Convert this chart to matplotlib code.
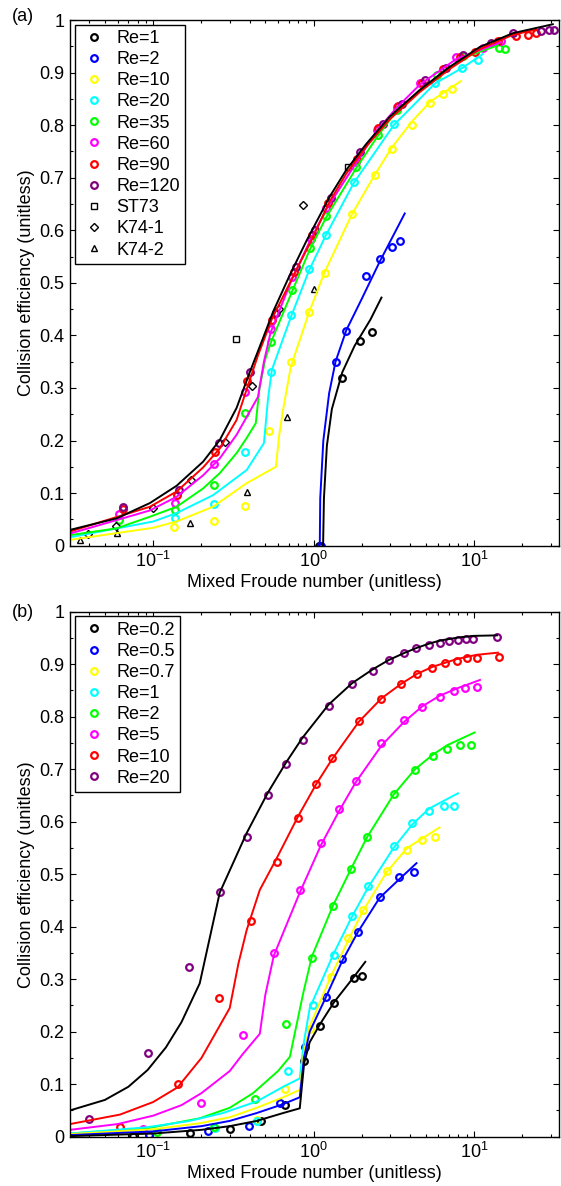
import matplotlib
matplotlib.use('Agg')
import matplotlib.pyplot as plt
from matplotlib.ticker import MultipleLocator, LogLocator, NullFormatter

plt.rcParams['font.family'] = ['Liberation Sans', 'DejaVu Sans']
plt.rcParams['mathtext.fontset'] = 'custom'
plt.rcParams['mathtext.rm'] = 'Liberation Sans'
plt.rcParams['mathtext.it'] = 'Liberation Sans:italic'
plt.rcParams['mathtext.bf'] = 'Liberation Sans:bold'

# ---------------- panel (a): measured points ----------------
a_re1_fr = [1.08, 1.51, 1.94, 2.30]
a_re1_e = [0.0, 0.319, 0.390, 0.406]
a_re2_fr = [1.11, 1.37, 1.60, 2.11, 2.60, 3.10, 3.44]
a_re2_e = [0.0, 0.350, 0.409, 0.514, 0.545, 0.569, 0.580]
a_re10_fr = [0.135, 0.239, 0.373, 0.528, 0.721, 0.938, 1.17, 1.73, 2.40, 3.08, 4.13, 5.35, 6.41, 7.33]
a_re10_e = [0.036, 0.046, 0.075, 0.219, 0.350, 0.444, 0.519, 0.631, 0.705, 0.755, 0.800, 0.842, 0.859, 0.868]
a_re20_fr = [0.137, 0.240, 0.376, 0.539, 0.728, 0.938, 1.19, 1.78, 3.16, 5.69, 8.47, 10.6]
a_re20_e = [0.053, 0.079, 0.179, 0.330, 0.439, 0.526, 0.592, 0.692, 0.802, 0.881, 0.909, 0.924]
a_re35_fr = [0.061, 0.137, 0.240, 0.376, 0.539, 0.735, 0.946, 1.20, 1.85, 2.52, 3.29, 5.92, 8.54, 14.3, 15.6]
a_re35_e = [0.048, 0.068, 0.115, 0.252, 0.387, 0.486, 0.566, 0.627, 0.721, 0.782, 0.829, 0.895, 0.932, 0.947, 0.944]
a_re60_fr = [0.0611, 0.137, 0.240, 0.374, 0.539, 0.735, 0.957, 1.20, 1.83, 2.47, 3.29, 4.63, 7.77, 11.3, 14.8]
a_re60_e = [0.060, 0.081, 0.155, 0.292, 0.412, 0.511, 0.584, 0.642, 0.729, 0.791, 0.835, 0.880, 0.929, 0.946, 0.960]
a_re90_fr = [0.065, 0.140, 0.243, 0.385, 0.551, 0.753, 0.98, 1.23, 1.87, 2.52, 3.36, 4.77, 6.41, 8.15,
             10.1, 14.1, 18.2, 21.7, 24.5]
a_re90_e = [0.069, 0.096, 0.179, 0.313, 0.429, 0.521, 0.592, 0.651, 0.735, 0.794, 0.836, 0.881, 0.906, 0.930,
            0.940, 0.961, 0.970, 0.972, 0.975]
a_re120_fr = [0.0644, 0.145, 0.258, 0.400, 0.579, 0.780, 1.02, 1.29, 1.94, 2.70, 3.56, 4.98, 6.66, 8.5,
              12.7, 17.5, 26.3, 29.3, 31.4]
a_re120_e = [0.074, 0.106, 0.195, 0.330, 0.442, 0.530, 0.601, 0.661, 0.749, 0.802, 0.841, 0.885, 0.908, 0.933,
             0.957, 0.975, 0.980, 0.981, 0.982]
st73_fr = [0.326, 1.64]
st73_e = [0.393, 0.721]
k741_fr = [0.039, 0.059, 0.1, 0.173, 0.280, 0.416, 0.61, 0.853]
k741_e = [0.022, 0.038, 0.072, 0.125, 0.197, 0.304, 0.450, 0.649]
k742_fr = [0.0349, 0.0597, 0.169, 0.385, 0.684, 1.0]
k742_e = [0.011, 0.024, 0.043, 0.103, 0.244, 0.489]

# ---------------- panel (a): fitted curves ----------------
a_fit1_fr = [1.146, 1.16, 1.21, 1.30, 1.51, 1.80, 2.26, 2.65]
a_fit1_e = [0.0, 0.09, 0.19, 0.26, 0.33, 0.38, 0.43, 0.472]
a_fit2_fr = [1.093, 1.10, 1.15, 1.25, 1.37, 1.6, 2.0, 2.58, 3.70]
a_fit2_e = [0.0, 0.09, 0.20, 0.29, 0.35, 0.41, 0.47, 0.54, 0.632]
a_fit10_fr = [0.0303, 0.1, 0.140, 0.236, 0.383, 0.582, 0.61, 0.645, 0.72, 0.94, 1.17, 1.73, 2.40, 3.08,
              4.13, 5.35, 8.3]
a_fit10_e = [0.011, 0.034, 0.046, 0.074, 0.119, 0.150, 0.21, 0.258, 0.340, 0.445, 0.520, 0.630, 0.705, 0.758,
             0.808, 0.845, 0.884]
a_fit20_fr = [0.0303, 0.1, 0.140, 0.236, 0.383, 0.49, 0.52, 0.55, 0.728, 0.938, 1.19, 1.78, 3.16, 5.69, 8.47, 11.3]
a_fit20_e = [0.016, 0.046, 0.062, 0.096, 0.144, 0.195, 0.280, 0.335, 0.438, 0.524, 0.590, 0.690, 0.800, 0.879,
             0.909, 0.935]
a_fit35_fr = [0.0303, 0.0591, 0.0953, 0.140, 0.205, 0.260, 0.331, 0.383, 0.436, 0.46, 0.50, 0.539, 0.735, 0.946,
              1.20, 1.85, 2.52, 3.29, 5.92, 8.54, 14.1]
a_fit35_e = [0.020, 0.033, 0.055, 0.074, 0.109, 0.138, 0.176, 0.205, 0.233, 0.300, 0.355, 0.385, 0.484, 0.563,
             0.625, 0.719, 0.780, 0.827, 0.893, 0.928, 0.952]
a_fit60_fr = [0.0303, 0.0953, 0.140, 0.205, 0.260, 0.331, 0.383, 0.45, 0.49, 0.539, 0.735, 0.957, 1.20, 1.83,
              2.47, 3.29, 4.63, 7.77, 14.8]
a_fit60_e = [0.023, 0.067, 0.093, 0.134, 0.166, 0.211, 0.245, 0.283, 0.350, 0.405, 0.508, 0.582, 0.640, 0.727,
             0.789, 0.833, 0.878, 0.926, 0.958]
a_fit90_fr = [0.0303, 0.0953, 0.140, 0.205, 0.260, 0.331, 0.385, 0.45, 0.551, 0.753, 0.98, 1.26, 1.60, 2.14,
              2.98, 4.59, 7.06, 10.9, 17.5, 24.5]
a_fit90_e = [0.027, 0.074, 0.103, 0.149, 0.185, 0.239, 0.300, 0.362, 0.432, 0.515, 0.584, 0.655, 0.708, 0.760,
             0.811, 0.863, 0.907, 0.945, 0.972, 0.982]
a_fit120_fr = [0.0303, 0.0591, 0.0953, 0.140, 0.205, 0.260, 0.331, 0.40, 0.48, 0.559, 0.711, 0.903, 1.26, 1.60,
               2.14, 2.98, 4.59, 7.06, 10.9, 17.5, 31.0]
a_fit120_e = [0.030, 0.052, 0.081, 0.114, 0.160, 0.201, 0.262, 0.330, 0.392, 0.445, 0.515, 0.580, 0.664, 0.715,
              0.765, 0.816, 0.867, 0.911, 0.949, 0.975, 0.992]

# ---------------- panel (b): measured points ----------------
b_re02_fr = [0.0744, 0.169, 0.300, 0.467, 0.668, 0.873, 1.10, 1.34, 1.79, 1.99]
b_re02_e = [0.002, 0.007, 0.015, 0.029, 0.060, 0.145, 0.211, 0.254, 0.303, 0.306]
b_re05_fr = [0.0944, 0.220, 0.396, 0.615, 0.881, 1.19, 1.51, 1.89, 2.58, 3.41, 4.23]
b_re05_e = [0.003, 0.010, 0.021, 0.065, 0.171, 0.267, 0.338, 0.390, 0.457, 0.494, 0.505]
b_re07_fr = [0.441, 0.659, 0.946, 1.28, 1.65, 2.03, 2.87, 3.83, 4.77, 5.69]
b_re07_e = [0.031, 0.090, 0.206, 0.304, 0.378, 0.432, 0.507, 0.547, 0.565, 0.570]
b_re1_fr = [0.242, 0.447, 0.693, 0.993, 1.34, 1.74, 2.19, 3.15, 4.13, 5.25, 6.47, 7.50]
b_re1_e = [0.016, 0.030, 0.125, 0.250, 0.346, 0.420, 0.478, 0.554, 0.597, 0.620, 0.630, 0.629]
b_re2_fr = [0.105, 0.239, 0.429, 0.675, 0.975, 1.32, 1.71, 2.15, 3.16, 4.29, 5.56, 6.83, 8.15, 9.53]
b_re2_e = [0.008, 0.018, 0.071, 0.215, 0.341, 0.439, 0.510, 0.571, 0.652, 0.699, 0.725, 0.738, 0.746, 0.747]
b_re5_fr = [0.0867, 0.200, 0.361, 0.565, 0.82, 1.11, 1.44, 1.83, 2.65, 3.66, 4.77, 6.11, 7.48, 8.84, 10.4]
b_re5_e = [0.014, 0.065, 0.194, 0.349, 0.469, 0.559, 0.624, 0.678, 0.750, 0.794, 0.819, 0.837, 0.849, 0.854, 0.856]
b_re10_fr = [0.062, 0.142, 0.258, 0.406, 0.588, 0.80, 1.04, 1.31, 1.91, 2.65, 3.53, 4.44, 5.51, 6.64, 7.84,
             9.1, 10.4, 14.3]
b_re10_e = [0.019, 0.100, 0.265, 0.410, 0.524, 0.608, 0.672, 0.721, 0.792, 0.833, 0.862, 0.881, 0.893, 0.902,
            0.907, 0.912, 0.912, 0.914]
b_re20_fr = [0.0399, 0.0923, 0.167, 0.260, 0.382, 0.518, 0.671, 0.853, 1.24, 1.74, 2.33, 2.94, 3.65, 4.38,
             5.22, 6.11, 6.98, 8.0, 8.97, 9.86, 13.9]
b_re20_e = [0.033, 0.159, 0.324, 0.466, 0.571, 0.650, 0.709, 0.755, 0.821, 0.862, 0.888, 0.908, 0.921, 0.930,
            0.936, 0.941, 0.944, 0.947, 0.949, 0.949, 0.951]

# ---------------- panel (b): fitted curves ----------------
b_fit02_fr = [0.0303, 0.1, 0.2, 0.3, 0.442, 0.646, 0.82, 0.873, 0.946, 1.1, 1.34, 1.79, 2.1]
b_fit02_e = [0.001, 0.006, 0.013, 0.020, 0.030, 0.045, 0.054, 0.14, 0.18, 0.215, 0.256, 0.305, 0.333]
b_fit05_fr = [0.0303, 0.1, 0.2, 0.3, 0.442, 0.646, 0.82, 0.87, 0.946, 1.19, 1.51, 1.89, 2.58, 3.41, 4.38]
b_fit05_e = [0.003, 0.010, 0.020, 0.030, 0.045, 0.062, 0.075, 0.15, 0.20, 0.265, 0.335, 0.39, 0.455, 0.49, 0.521]
b_fit07_fr = [0.0303, 0.1, 0.2, 0.3, 0.442, 0.646, 0.82, 0.87, 0.946, 1.28, 1.65, 2.03, 2.87, 3.83, 6.1]
b_fit07_e = [0.005, 0.014, 0.026, 0.037, 0.055, 0.075, 0.089, 0.16, 0.21, 0.305, 0.375, 0.43, 0.505, 0.55, 0.589]
b_fit1_fr = [0.0303, 0.092, 0.169, 0.272, 0.442, 0.646, 0.82, 0.87, 0.946, 1.34, 1.74, 2.19, 3.15, 4.13, 5.25, 7.94]
b_fit1_e = [0.006, 0.018, 0.030, 0.045, 0.067, 0.095, 0.111, 0.18, 0.245, 0.35, 0.42, 0.475, 0.55, 0.595, 0.625,
            0.654]
b_fit2_fr = [0.0303, 0.092, 0.195, 0.3, 0.42, 0.6, 0.711, 0.861, 0.975, 1.32, 1.71, 2.15, 3.16, 4.29, 5.56, 6.83, 10.1]
b_fit2_e = [0.006, 0.016, 0.035, 0.055, 0.083, 0.125, 0.152, 0.273, 0.343, 0.44, 0.51, 0.57, 0.652, 0.70, 0.728,
            0.746, 0.77]
b_fit5_fr = [0.0303, 0.06, 0.1, 0.15, 0.2, 0.3, 0.361, 0.462, 0.50, 0.565, 0.82, 1.11, 1.44, 1.83, 2.65, 3.66,
             4.77, 6.11, 8.0, 10.9]
b_fit5_e = [0.013, 0.024, 0.040, 0.060, 0.083, 0.125, 0.157, 0.196, 0.27, 0.345, 0.465, 0.555, 0.62, 0.675, 0.745,
            0.79, 0.82, 0.84, 0.855, 0.87]
b_fit10_fr = [0.0303, 0.062, 0.1, 0.142, 0.2, 0.3, 0.34, 0.383, 0.462, 0.588, 0.8, 1.04, 1.31, 1.91, 2.65, 3.53,
              4.44, 5.51, 7.84, 10.4, 14.1]
b_fit10_e = [0.024, 0.042, 0.066, 0.094, 0.15, 0.245, 0.33, 0.394, 0.47, 0.53, 0.61, 0.672, 0.72, 0.79, 0.835,
             0.863, 0.882, 0.895, 0.91, 0.918, 0.922]
b_fit20_fr = [0.0303, 0.05, 0.07, 0.0923, 0.12, 0.15, 0.195, 0.26, 0.382, 0.518, 0.671, 0.853, 1.24, 1.74, 2.33,
              2.94, 3.65, 4.38, 5.22, 6.11, 8.0, 9.86, 13.9]
b_fit20_e = [0.050, 0.070, 0.095, 0.127, 0.170, 0.218, 0.292, 0.465, 0.578, 0.655, 0.712, 0.760, 0.823, 0.864,
             0.890, 0.908, 0.921, 0.931, 0.939, 0.945, 0.951, 0.954, 0.955]

PURPLE = '#800080'


def style_axes(ax):
    ax.set_xscale('log')
    ax.set_xlim(0.0303, 33.9)
    ax.set_ylim(0, 1)
    ax.set_yticks([i / 10 for i in range(11)])
    ax.set_yticklabels(['0', '0.1', '0.2', '0.3', '0.4', '0.5', '0.6', '0.7', '0.8', '0.9', '1'])
    ax.yaxis.set_minor_locator(MultipleLocator(0.05))
    ax.xaxis.set_minor_locator(LogLocator(base=10, subs=range(2, 10), numticks=20))
    ax.xaxis.set_minor_formatter(NullFormatter())
    ax.tick_params(which='both', direction='in', top=True, right=True, labelsize=13, width=0.8)
    ax.tick_params(which='major', length=4.5, pad=4)
    ax.tick_params(which='minor', length=2.3)
    for s in ax.spines.values():
        s.set_linewidth(1.0)
    ax.set_xlabel('Mixed Froude number (unitless)', fontsize=13, labelpad=2)
    ax.set_ylabel('Collision efficiency (unitless)', fontsize=13, labelpad=3)


def draw_points(ax, series):
    for fr, e, col, lab in series:
        ax.plot(fr, e, 'o', ms=4.8, mew=1.6, mfc='none', mec=col, ls='none', label=lab)


def draw_fits(ax, fits):
    for fr, e, col in fits:
        ax.plot(fr, e, '-', color=col, lw=1.4)


fig = plt.figure(figsize=(5.61, 11.86), dpi=100)
ax_a = fig.add_axes([0.1248, 0.5399, 0.8717, 0.4432])
ax_b = fig.add_axes([0.1248, 0.0416, 0.8717, 0.4426])

# panel (a)
draw_points(ax_a, [
    (a_re1_fr, a_re1_e, 'k', 'Re=1'),
    (a_re2_fr, a_re2_e, 'b', 'Re=2'),
    (a_re10_fr, a_re10_e, '#ffff00', 'Re=10'),
    (a_re20_fr, a_re20_e, '#00ffff', 'Re=20'),
    (a_re35_fr, a_re35_e, '#00ff00', 'Re=35'),
    (a_re60_fr, a_re60_e, '#ff00ff', 'Re=60'),
    (a_re90_fr, a_re90_e, '#ff0000', 'Re=90'),
    (a_re120_fr, a_re120_e, PURPLE, 'Re=120'),
])
ax_a.plot(st73_fr, st73_e, 's', ms=4, mew=1.0, mfc='none', mec='k', ls='none', label='ST73')
ax_a.plot(k741_fr, k741_e, 'D', ms=3.6, mew=1.0, mfc='none', mec='k', ls='none', label='K74-1')
ax_a.plot(k742_fr, k742_e, '^', ms=4.2, mew=1.0, mfc='none', mec='k', ls='none', label='K74-2')
draw_fits(ax_a, [
    (a_fit10_fr, a_fit10_e, '#ffff00'),
    (a_fit20_fr, a_fit20_e, '#00ffff'),
    (a_fit35_fr, a_fit35_e, '#00ff00'),
    (a_fit60_fr, a_fit60_e, '#ff00ff'),
    (a_fit90_fr, a_fit90_e, '#ff0000'),
    (a_fit120_fr, a_fit120_e, 'k'),
    (a_fit2_fr, a_fit2_e, 'b'),
    (a_fit1_fr, a_fit1_e, 'k'),
])

# panel (b)
draw_points(ax_b, [
    (b_re02_fr, b_re02_e, 'k', 'Re=0.2'),
    (b_re05_fr, b_re05_e, 'b', 'Re=0.5'),
    (b_re07_fr, b_re07_e, '#ffff00', 'Re=0.7'),
    (b_re1_fr, b_re1_e, '#00ffff', 'Re=1'),
    (b_re2_fr, b_re2_e, '#00ff00', 'Re=2'),
    (b_re5_fr, b_re5_e, '#ff00ff', 'Re=5'),
    (b_re10_fr, b_re10_e, '#ff0000', 'Re=10'),
    (b_re20_fr, b_re20_e, PURPLE, 'Re=20'),
])
draw_fits(ax_b, [
    (b_fit20_fr, b_fit20_e, 'k'),
    (b_fit10_fr, b_fit10_e, '#ff0000'),
    (b_fit5_fr, b_fit5_e, '#ff00ff'),
    (b_fit2_fr, b_fit2_e, '#00ff00'),
    (b_fit1_fr, b_fit1_e, '#00ffff'),
    (b_fit07_fr, b_fit07_e, '#ffff00'),
    (b_fit05_fr, b_fit05_e, 'b'),
    (b_fit02_fr, b_fit02_e, 'k'),
])

for ax in (ax_a, ax_b):
    style_axes(ax)
    leg = ax.legend(loc='upper left', fontsize=13, frameon=True, fancybox=False, borderaxespad=0.25,
                    labelspacing=0.23, handletextpad=0.4, handlelength=1.6, borderpad=0.3)
    leg.get_frame().set_edgecolor('k')
    leg.get_frame().set_linewidth(1.0)
    leg.get_frame().set_alpha(1)

fig.text(0.021, 0.9857, '(a)', fontsize=13, ha='left', va='center')
fig.text(0.021, 0.4833, '(b)', fontsize=13, ha='left', va='center')

fig.savefig('out.png', dpi=100)
